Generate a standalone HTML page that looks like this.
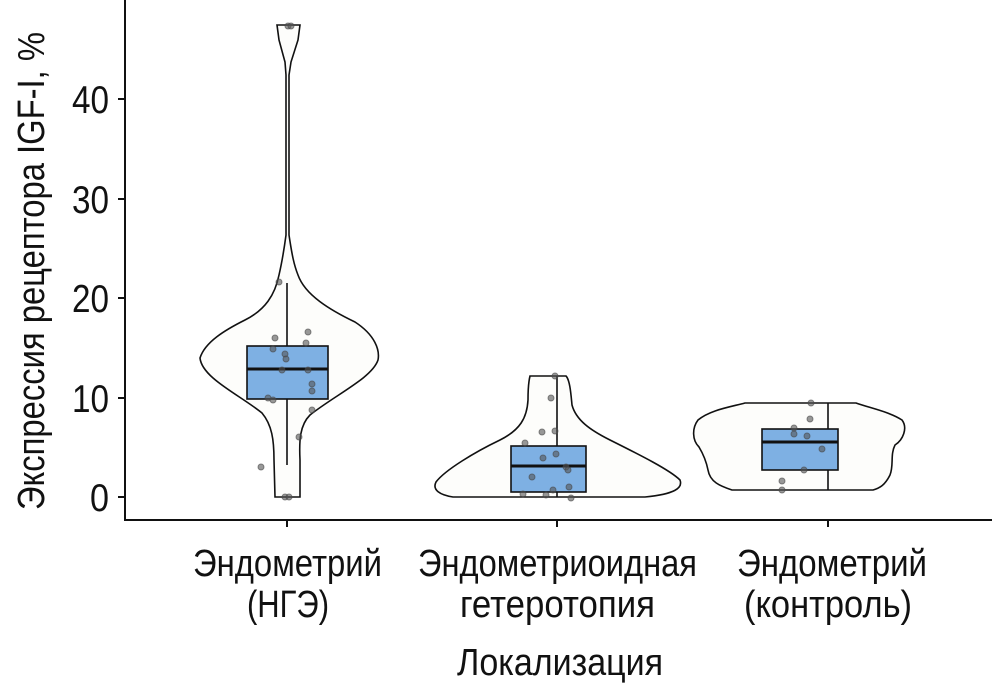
<!DOCTYPE html>
<html><head><meta charset="utf-8"><style>
html,body{margin:0;padding:0;background:#fff;}
svg text{font-family:"Liberation Sans",sans-serif;fill:#111;}
</style></head><body>
<svg width="992" height="691" viewBox="0 0 992 691" xmlns="http://www.w3.org/2000/svg">
<line x1="125" y1="0" x2="125" y2="521" stroke="#111" stroke-width="2"/>
<line x1="124" y1="520" x2="992" y2="520" stroke="#111" stroke-width="2"/>
<g stroke="#111" stroke-width="2">
<line x1="118" y1="497" x2="125" y2="497"/><line x1="118" y1="398" x2="125" y2="398"/>
<line x1="118" y1="298" x2="125" y2="298"/><line x1="118" y1="199" x2="125" y2="199"/>
<line x1="118" y1="99" x2="125" y2="99"/>
<line x1="287" y1="520" x2="287" y2="527"/><line x1="557" y1="520" x2="557" y2="527"/><line x1="828" y1="520" x2="828" y2="527"/>
</g>
<g font-size="39">
<text x="90" y="511" textLength="19" lengthAdjust="spacingAndGlyphs">0</text>
<text x="72" y="412" textLength="37" lengthAdjust="spacingAndGlyphs">10</text>
<text x="72" y="312" textLength="37" lengthAdjust="spacingAndGlyphs">20</text>
<text x="72" y="213" textLength="37" lengthAdjust="spacingAndGlyphs">30</text>
<text x="72" y="113" textLength="37" lengthAdjust="spacingAndGlyphs">40</text>
</g>
<text transform="translate(44,510) rotate(-90)" font-size="38" textLength="478" lengthAdjust="spacingAndGlyphs">Экспрессия рецептора IGF-I, %</text>
<g font-size="38">
<text x="193" y="576" textLength="189" lengthAdjust="spacingAndGlyphs">Эндометрий</text>
<text x="247" y="617" textLength="82" lengthAdjust="spacingAndGlyphs">(НГЭ)</text>
<text x="418" y="576" textLength="279" lengthAdjust="spacingAndGlyphs">Эндометриоидная</text>
<text x="460" y="617" textLength="195" lengthAdjust="spacingAndGlyphs">гетеротопия</text>
<text x="737" y="576" textLength="190" lengthAdjust="spacingAndGlyphs">Эндометрий</text>
<text x="744" y="617" textLength="168" lengthAdjust="spacingAndGlyphs">(контроль)</text>
<text x="457" y="675" textLength="206" lengthAdjust="spacingAndGlyphs">Локализация</text>
</g>
<g fill="#fdfdfb" stroke="#111" stroke-width="1.6">
<path d="M277,25 L300,25 L298,40 L291,62 L289,75 L289,235 C292,255 294,265 298,275 C305,295 330,310 355,322 C375,335 380,350 378,360 C372,378 335,395 310,415 C300,425 299,440 300,460 L300,497 L275,497 L274,460 C274,440 272,425 262,413 C240,395 202,378 200,358 C205,342 225,330 245,320 C265,310 275,295 279,275 C282,262 284,250 286,235 L286,75 L285,62 L279,40 Z"/>
<path d="M530,376 L566,376 C570,380 571,395 572,405 C576,420 590,430 610,440 C640,455 670,470 680,480 C683,488 675,494 645,497 L453,497 C440,495 432,490 436,482 C445,470 475,452 500,440 C520,430 527,418 528,400 C528,390 529,380 530,376 Z"/>
<path d="M745,403 L856,403 C870,408 890,412 902,420 C908,428 903,440 895,445 C890,455 894,465 890,475 C885,485 880,488 873,490 L732,490 C720,486 710,482 708,470 C706,460 702,452 699,447 C692,440 692,428 698,420 C710,410 730,407 745,403 Z"/>
</g>
<g stroke="#111" stroke-width="1.6">
<line x1="287" y1="283" x2="287" y2="465"/>
<line x1="557" y1="376" x2="557" y2="497"/>
<line x1="828" y1="403" x2="828" y2="490"/>
</g>
<g fill="#7eb0e3" stroke="#111" stroke-width="1.6">
<rect x="247" y="346" width="81" height="53"/>
<rect x="511" y="446" width="75" height="46"/>
<rect x="762" y="429" width="76" height="41"/>
</g>
<g stroke="#111" stroke-width="3">
<line x1="247" y1="369" x2="328" y2="369"/>
<line x1="511" y1="466" x2="586" y2="466"/>
<line x1="762" y1="442" x2="838" y2="442"/>
</g>
<g fill="#555" fill-opacity="0.6" stroke="#444" stroke-opacity="0.6" stroke-width="1">
<circle cx="288" cy="26" r="3"/><circle cx="291" cy="26" r="3"/>
<circle cx="279" cy="282" r="3"/><circle cx="308" cy="332" r="3"/><circle cx="275" cy="338" r="3"/>
<circle cx="306" cy="343" r="3"/><circle cx="273" cy="349" r="3"/><circle cx="285" cy="354" r="3"/>
<circle cx="286" cy="359" r="3"/><circle cx="282" cy="370" r="3"/><circle cx="308" cy="370" r="3"/>
<circle cx="312" cy="384" r="3"/><circle cx="312" cy="391" r="3"/><circle cx="268" cy="398" r="3"/>
<circle cx="273" cy="400" r="3"/><circle cx="312" cy="410" r="3"/><circle cx="299" cy="437" r="3"/>
<circle cx="261" cy="467" r="3"/><circle cx="285" cy="497" r="3"/><circle cx="289" cy="497" r="3"/>
<circle cx="555" cy="376" r="3"/><circle cx="551" cy="398" r="3"/><circle cx="542" cy="432" r="3"/>
<circle cx="555" cy="431" r="3"/><circle cx="525" cy="443" r="3"/><circle cx="543" cy="458" r="3"/>
<circle cx="556" cy="454" r="3"/><circle cx="566" cy="467" r="3"/><circle cx="568" cy="470" r="3"/>
<circle cx="532" cy="477" r="3"/><circle cx="553" cy="490" r="3"/><circle cx="569" cy="487" r="3"/>
<circle cx="523" cy="494" r="3"/><circle cx="546" cy="495" r="3"/><circle cx="571" cy="498" r="3"/>
<circle cx="811" cy="403" r="3"/><circle cx="810" cy="419" r="3"/><circle cx="794" cy="428" r="3"/>
<circle cx="794" cy="434" r="3"/><circle cx="807" cy="436" r="3"/><circle cx="822" cy="449" r="3"/>
<circle cx="804" cy="470" r="3"/><circle cx="782" cy="481" r="3"/><circle cx="782" cy="490" r="3"/>
</g>
</svg>
</body></html>
